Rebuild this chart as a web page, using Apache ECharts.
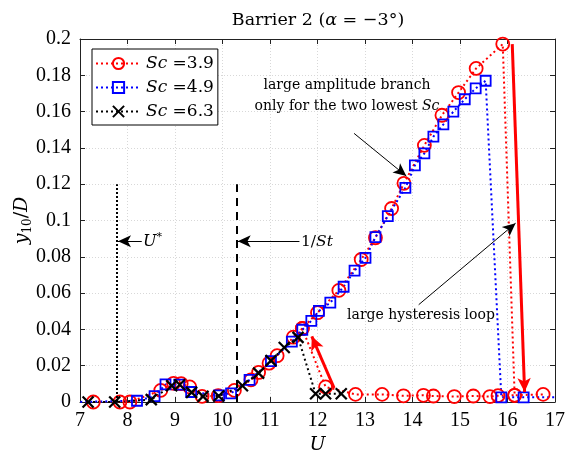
<!DOCTYPE html>
<html><head><meta charset="utf-8">
<script src="https://cdn.jsdelivr.net/npm/echarts@6/dist/echarts.min.js"></script>
<style>html,body{margin:0;padding:0;background:#fff}#c{width:565px;height:452px}</style>
</head><body><div id="c"></div>
<script>
// ---- data ----
const xTicks = [7, 8, 9, 10, 11, 12, 13, 14, 15, 16, 17];
const yTicks = [0, 0.02, 0.04, 0.06, 0.08, 0.1, 0.12, 0.14, 0.16, 0.18, 0.2];

// Sc = 3.9, increasing U (upper branch) then jump down
const sc39Up = [[7.28,0],[7.84,0],[8.05,0],[8.7,0.0064],[8.97,0.0103],[9.13,0.0101],[9.31,0.0083],
  [9.57,0.0031],[9.91,0.0035],[10.25,0.0064],[10.6,0.0122],[10.76,0.0163],[10.98,0.0214],[11.15,0.0255],
  [11.49,0.0357],[11.68,0.0405],[12.0,0.0492],[12.45,0.0615],[12.92,0.0785],[13.22,0.0905],[13.56,0.1066],
  [13.82,0.1205],[14.25,0.1414],[14.62,0.158],[14.97,0.1705],[15.34,0.1838],[15.9,0.1972],
  [16.15,0.0037],[16.75,0.0042]];
// Sc = 3.9, lower branch
const sc39Low = [[11.68,0.0405],[12.17,0.0083],[12.8,0.0042],[13.36,0.0042],[13.81,0.0034],[14.23,0.0037],
  [14.44,0.0033],[14.88,0.003],[15.28,0.0033],[15.63,0.003],[15.8,0.0035],[16.15,0.0037]];
// Sc = 4.9
const sc49 = [[6.9,0],[8.2,0.0007],[8.57,0.0032],[8.8,0.0097],[9.09,0.0096],[9.34,0.0055],[9.93,0.0037],
  [10.18,0.0048],[10.57,0.0122],[11.02,0.0225],[11.46,0.0333],[11.68,0.0398],[11.87,0.0447],[12.03,0.0502],
  [12.27,0.0547],[12.55,0.0635],[12.78,0.0724],[13.01,0.0794],[13.22,0.0908],[13.48,0.1024],[13.85,0.118],
  [14.05,0.1304],[14.25,0.137],[14.44,0.1462],[14.65,0.153],[14.86,0.16],[15.1,0.1668],[15.33,0.1728],
  [15.54,0.177],[15.87,0.0026],[16.34,0.0026],[17.2,0.0026]];
// Sc = 6.3
const sc63 = [[7.17,0],[7.73,0],[8.5,0.0013],[8.93,0.009],[9.1,0.0095],[9.35,0.0053],[9.59,0.0031],
  [9.92,0.0033],[10.42,0.009],[10.76,0.0159],[11.02,0.0228],[11.3,0.03],[11.59,0.0356],
  [11.96,0.0045],[12.17,0.0045],[12.5,0.0045]];

const uStar = 7.78, invSt = 10.3, refTop = 0.12;
const legendNames = ['3.9', '4.9', '6.3'];

// ---- styles ----
const SERIF = 'Liberation Serif';
const TXT = 'DejaVu Serif';
const RED = '#ff0000', BLUE = '#0000ff', BLACK = '#000000';
const dots = [2, 3];

function mkLine(name, data, color, symbol, size, bw) {
  return {
    name, type: 'line', data, clip: true, symbol, symbolSize: size,
    itemStyle: { color: 'transparent', borderColor: color, borderWidth: bw },
    lineStyle: { color, width: 2, type: dots },
    emphasis: { disabled: true }, z: 3
  };
}
const xSym = 'path://M0,0L10,10M10,0L0,10';

const series = [
  mkLine('Sc =' + legendNames[0], sc39Up, RED, 'circle', 13, 1.8),
  mkLine('red-low', sc39Low, RED, 'circle', 13, 1.8),
  mkLine('Sc =' + legendNames[1], sc49, BLUE, 'rect', 10, 1.8),
  mkLine('Sc =' + legendNames[2], sc63, BLACK, xSym, 11, 2.2),
  {
    type: 'line', data: [], silent: true, z: 5,
    markLine: {
      silent: true, animation: false, label: { show: false }, symbol: ['none', 'none'],
      data: [
        [{ coord: [uStar, 0], lineStyle: { color: '#000', width: 2, type: [2, 2] } }, { coord: [uStar, refTop] }],
        [{ coord: [invSt, 0], lineStyle: { color: '#000', width: 2, type: [8, 6] } }, { coord: [invSt, refTop] }],
      ]
    }
  },
  {
    type: 'line', data: [], silent: true, z: 6,
    markLine: {
      silent: true, animation: false, label: { show: false },
      symbol: ['none', 'arrow'], symbolSize: [9, 13],
      data: [
        [{ coord: [8.3, 0.0886], lineStyle: { color: '#000', width: 1, type: 'solid' } }, { coord: [7.8, 0.0886] }],
        [{ coord: [11.62, 0.0886], lineStyle: { color: '#000', width: 1, type: 'solid' } }, { coord: [10.32, 0.0886] }],
        [{ coord: [12.77, 0.148], lineStyle: { color: '#000', width: 1, type: 'solid' } }, { coord: [13.87, 0.1245] }],
        [{ coord: [14.13, 0.0536], lineStyle: { color: '#000', width: 1, type: 'solid' } }, { coord: [16.17, 0.0985] }],
      ]
    }
  },
  {
    type: 'line', data: [], silent: true, z: 6,
    markLine: {
      silent: true, animation: false, label: { show: false },
      symbol: ['none', 'arrow'], symbolSize: [10, 14],
      data: [
        [{ coord: [12.35, 0.0077], lineStyle: { color: RED, width: 3, type: 'solid' } }, { coord: [11.88, 0.0362] }],
        [{ coord: [16.1, 0.1972], lineStyle: { color: RED, width: 3, type: 'solid' } }, { coord: [16.36, 0.0055] }],
      ]
    }
  }
];

const tickFmt = v => String(parseFloat(v.toFixed(2)));
const labelStyle = { color: '#000', fontFamily: SERIF, fontSize: 20 };
const axLine = { show: true, onZero: false, lineStyle: { color: '#222', width: 1 } };
const axTick = { show: true, inside: true, length: 5, lineStyle: { color: '#222', width: 1 } };
const split = { show: true, lineStyle: { color: '#d8d8d8', width: 1, type: [1, 2] } };

const option = {
  animation: false,
  backgroundColor: '#fff',
  grid: { left: 80, right: 10, top: 39, bottom: 50, containLabel: false, outerBoundsMode: 'none' },
  legend: {
    data: legendNames.map(n => 'Sc =' + n),
    orient: 'vertical', left: 92, top: 49,
    padding: [6, 4, 5, 3], itemWidth: 45, itemHeight: 14, itemGap: 7,
    borderColor: '#000', borderWidth: 1, backgroundColor: '#fff',
    formatter: n => '{i|Sc} {n|' + n.slice(3) + '}',
    textStyle: {
      color: '#000', fontFamily: TXT, fontSize: 17, lineHeight: 14,
      rich: { i: { fontStyle: 'italic', fontFamily: TXT, fontSize: 17, lineHeight: 14, color: '#000' },
              n: { fontFamily: TXT, fontSize: 17, lineHeight: 14, color: '#000' } }
    }
  },
  xAxis: [
    { type: 'value', min: xTicks[0], max: xTicks[xTicks.length - 1], interval: xTicks[1] - xTicks[0],
      axisLine: axLine, axisTick: axTick, splitLine: split,
      axisLabel: { ...labelStyle, margin: 9, formatter: tickFmt },
      name: 'U', nameLocation: 'middle', nameGap: 32,
      nameTextStyle: { color: '#000', fontFamily: TXT, fontSize: 19, fontStyle: 'italic' } },
    { type: 'value', position: 'top', min: xTicks[0], max: xTicks[xTicks.length - 1], interval: xTicks[1] - xTicks[0],
      axisLine: axLine, axisTick: axTick, splitLine: { show: false }, axisLabel: { show: false } }
  ],
  yAxis: [
    { type: 'value', min: yTicks[0], max: yTicks[yTicks.length - 1], interval: 0.02,
      axisLine: axLine, axisTick: axTick, splitLine: split,
      axisLabel: { ...labelStyle, margin: 9, formatter: tickFmt },
      name: '{i|y}{s|10}{n|/}{i|D}', nameLocation: 'middle', nameGap: 46, nameRotate: 90, nameMoveOverlap: false,
      nameTextStyle: { color: '#000', fontFamily: TXT, fontSize: 19,
        rich: { i: { fontStyle: 'italic', fontFamily: TXT, fontSize: 19, lineHeight: 24, color: '#000' },
                n: { fontFamily: TXT, fontSize: 19, lineHeight: 24, color: '#000' },
                s: { fontFamily: TXT, fontSize: 12, lineHeight: 10, verticalAlign: 'bottom', color: '#000' } } } },
    { type: 'value', position: 'right', min: yTicks[0], max: yTicks[yTicks.length - 1], interval: 0.02,
      axisLine: axLine, axisTick: axTick, splitLine: { show: false }, axisLabel: { show: false } }
  ],
  graphic: [
    { type: 'text', x: 318, y: 20, z: 10, style: {
        text: '{n|Barrier 2 (}{i|α}{n| = −3°)}', align: 'center', verticalAlign: 'middle',
        rich: { n: { fontFamily: TXT, fontSize: 17.5, fill: '#000' },
                i: { fontFamily: TXT, fontSize: 17.5, fontStyle: 'italic', fill: '#000' } } } },
    { type: 'text', x: 347, y: 96, z: 10, style: {
        text: '{n|large amplitude branch}\n{n|only for the two lowest }{i|Sc}', align: 'center', verticalAlign: 'middle',
        rich: { n: { fontFamily: TXT, fontSize: 14, lineHeight: 21, fill: '#000' },
                i: { fontFamily: TXT, fontSize: 14, lineHeight: 21, fontStyle: 'italic', fill: '#000' } } } },
    { type: 'text', x: 421, y: 315, z: 10, style: {
        text: 'large hysteresis loop', align: 'center', verticalAlign: 'middle',
        fontFamily: TXT, fontSize: 14, fill: '#000' } },
    { type: 'text', x: 143, y: 242, z: 10, style: {
        text: '{i|U}{s|*}', align: 'left', verticalAlign: 'middle',
        rich: { i: { fontFamily: TXT, fontSize: 16, fontStyle: 'italic', fill: '#000', lineHeight: 20 },
                s: { fontFamily: TXT, fontSize: 11, fill: '#000', verticalAlign: 'top', lineHeight: 10 } } } },
    { type: 'text', x: 301, y: 242, z: 10, style: {
        text: '{n|1/}{i|St}', align: 'left', verticalAlign: 'middle',
        rich: { n: { fontFamily: TXT, fontSize: 15.5, fill: '#000' },
                i: { fontFamily: TXT, fontSize: 15.5, fontStyle: 'italic', fill: '#000' } } } }
  ],
  series
};

const chart = echarts.init(document.getElementById('c'), null, { renderer: 'canvas' });
chart.setOption(option);
</script>
</body></html>
